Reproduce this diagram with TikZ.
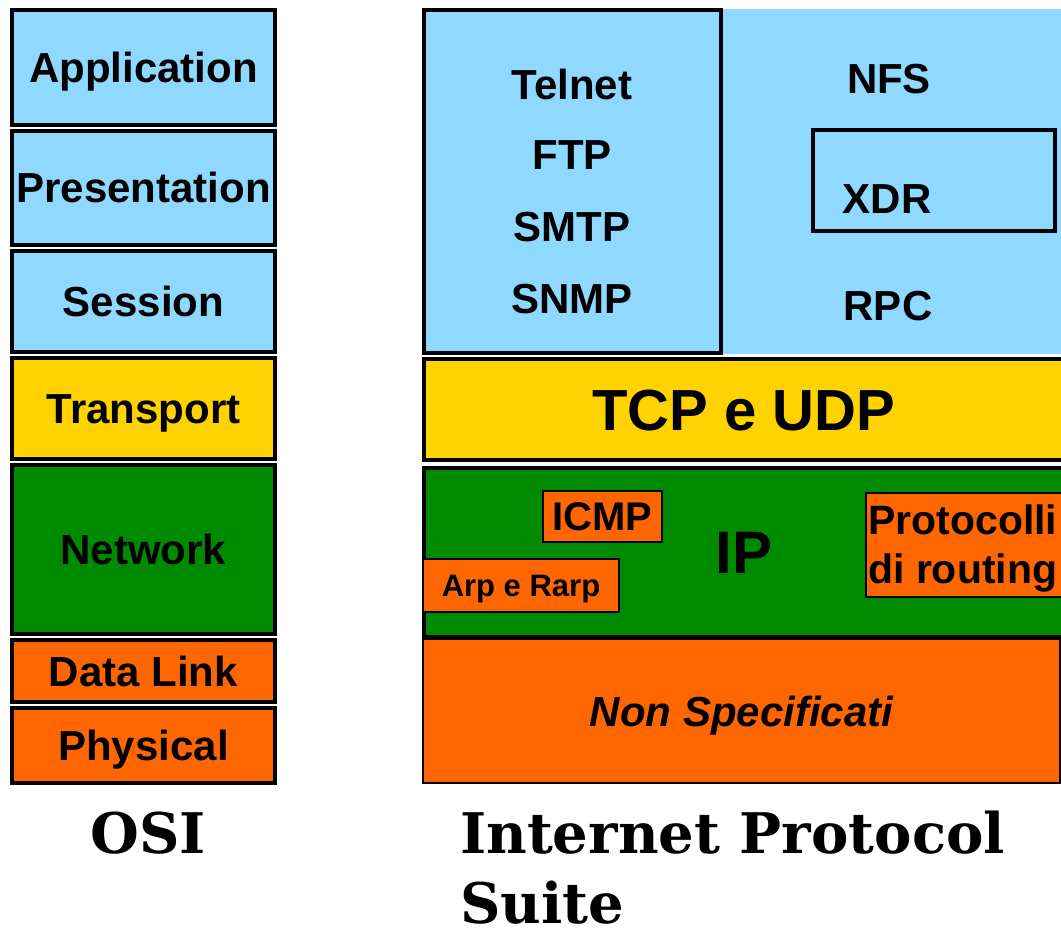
\documentclass[tikz,border=0pt]{standalone}
\usepackage{fontspec}
\setmainfont{Liberation Sans}
\newfontfamily\titlefont{DejaVu Serif}
\usetikzlibrary{positioning}
\definecolor{appblue}{RGB}{143,216,255}
\definecolor{tcpyellow}{RGB}{255,210,0}
\definecolor{ipgreen}{RGB}{0,138,0}
\definecolor{linkorange}{RGB}{255,102,0}
\newcommand{\fsz}[2]{\fontsize{#1}{#2}\selectfont}

\begin{document}
\begin{tikzpicture}[x=1pt,y=-1pt,node distance=2pt,
    layer/.style={draw,line width=4pt,inner sep=0pt,minimum width=263pt,text height=30pt,text depth=0pt,font=\fsz{42}{50}\bfseries},
    proto/.style={draw,line width=2pt,fill=linkorange,inner sep=0pt,text depth=0pt},
    word/.style={anchor=base,inner sep=0pt,font=\fsz{42}{50}\bfseries}]
\useasboundingbox (0,0) rectangle (1061,928);
\clip (0,0) rectangle (1061,928);

% OSI stack
\node[layer,fill=appblue,minimum height=115pt] (app) at (143.5,67.5) {Application};
\node[layer,fill=appblue,minimum height=114pt,below=of app] (pres) {Presentation};
\node[layer,fill=appblue,minimum height=101pt,below=of pres] (sess) {Session};
\node[layer,fill=tcpyellow,minimum height=101pt,below=of sess] (trans) {Transport};
\node[layer,fill=ipgreen,minimum height=169pt,below=of trans] (net) {Network};
\node[layer,fill=linkorange,minimum height=62pt,below=of net] (dlink) {Data Link};
\node[layer,fill=linkorange,minimum height=75pt,below=of dlink] (phys) {Physical};

% Internet suite
\node[fill=appblue,inner sep=0pt,minimum width=340pt,minimum height=345pt,anchor=north west] (rpcarea) at (723,9) {};
\node[layer,fill=appblue,minimum width=297pt,minimum height=343pt] (apps) at (572.5,181.5) {};
\node[word] (telnet) at (572,100) {Telnet};
\node[word] (ftp) at (572,170) {FTP};
\node[word] (smtp) at (572,242) {SMTP};
\node[word] (snmp) at (572,313) {SNMP};
\node[draw,line width=4pt,inner sep=0pt,minimum width=242pt,minimum height=101pt] (xdrbox) at (934,180.5) {};
\node[word] (nfs) at (889,94) {NFS};
\node[word] (xdr) at (887,214) {XDR};
\node[word] (rpc) at (888,320) {RPC};

\node[layer,fill=tcpyellow,minimum width=640pt,minimum height=101pt,text height=41.5pt,font=\fsz{58}{70}\bfseries] (tcp) at (744,409.5) {TCP e UDP};
\node[layer,fill=ipgreen,minimum width=640pt,minimum height=169pt,text height=43pt,font=\fsz{60}{72}\bfseries] (ip) at (744,552) {IP};
\node[proto,minimum width=119pt,minimum height=51pt,text height=28.6pt,font=\fsz{40}{48}\bfseries] (icmp) at (602.5,516.5) {ICMP};
\node[proto,minimum width=196pt,minimum height=53pt,text height=22.2pt,font=\fsz{31}{37}\bfseries] (arp) at (521,585.5) {Arp e Rarp};
\node[proto,minimum width=215pt,minimum height=104pt,anchor=north west] (routing) at (865,492) {};
\node[anchor=north west,align=left,inner sep=0pt,font=\fsz{41}{49}\bfseries] (routingtxt) at (868,505) {Protocolli\\di routing};
\node[proto,minimum width=637pt,minimum height=144pt,text height=30pt,font=\fsz{42}{50}\bfseries\itshape] (nonspec) at (741.5,711) {Non Specificati};

% titles
\node[font=\titlefont\bfseries\fsz{56}{70}] (osi) at (148,833) {OSI};
\node[anchor=north west,align=left,inner sep=0pt,text depth=0pt,font=\titlefont\bfseries\fsz{56}{70}] (ips) at (460,811) {Internet Protocol\\Suite};
\end{tikzpicture}
\end{document}
